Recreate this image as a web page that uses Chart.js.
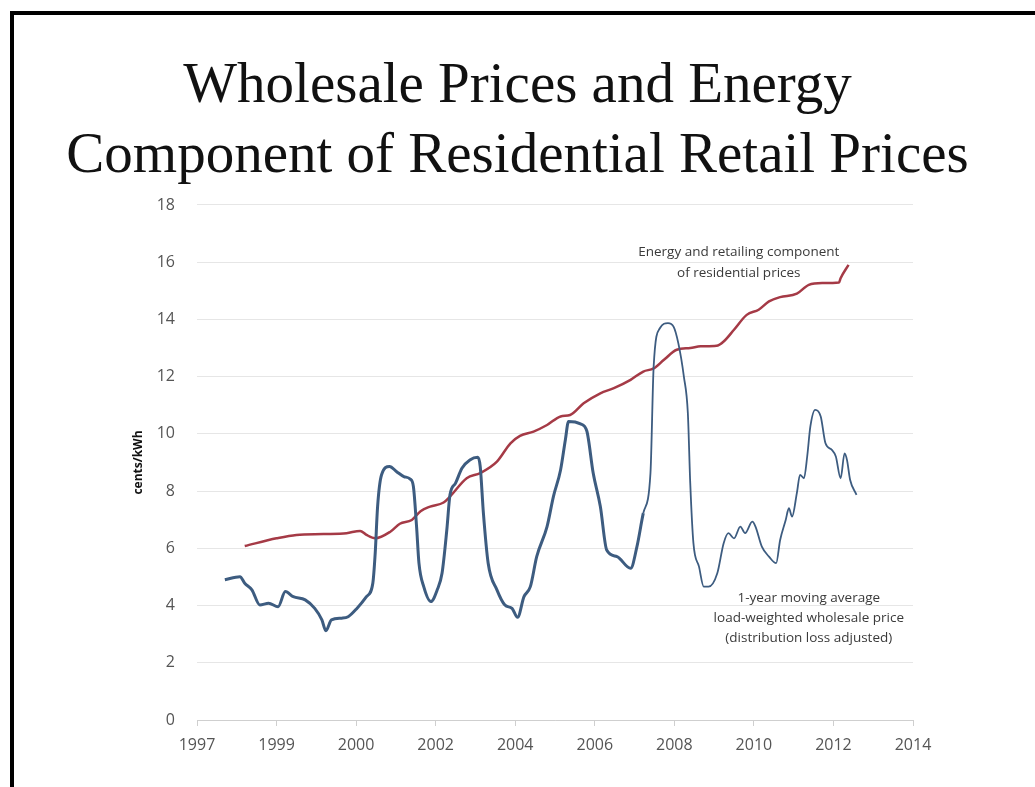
<!DOCTYPE html>
<html>
<head>
<meta charset="utf-8">
<title>Wholesale Prices and Energy Component of Residential Retail Prices</title>
<script src="https://cdn.jsdelivr.net/npm/chart.js@4.4.1/dist/chart.umd.min.js"></script>
<style>
  html, body { margin: 0; padding: 0; background: #fff; }
  #wrap { position: relative; width: 1035px; height: 787px; overflow: hidden; }
  #frame {
    position: absolute; left: 10px; top: 11px; right: -20px; bottom: -20px;
    border-left: 4px solid #000; border-top: 4px solid #000;
  }
  #chart { position: absolute; left: 0; top: 0; }
</style>
</head>
<body>
<div id="wrap">
  <div id="frame"></div>
  <canvas id="chart" width="1035" height="787"></canvas>
</div>
<script>
  "use strict";

  /* ---------------------------------------------------------------
   * Data (x is measured in tick steps along the date axis, 0 = "1997")
   * --------------------------------------------------------------- */
  const X_LABELS = ["1997", "1999", "2000", "2002", "2004", "2006", "2008", "2010", "2012", "2014"];

  // 1-year moving average load-weighted wholesale price
  const WHOLESALE_X = [
    0.35, 0.54, 0.60, 0.69, 0.79, 0.90, 1.02, 1.11, 1.21, 1.36, 1.48, 1.57, 1.62, 1.69, 1.82, 1.90,
    2.01, 2.13, 2.21, 2.24, 2.27, 2.32, 2.42, 2.51, 2.60, 2.68, 2.72, 2.76, 2.79, 2.85, 2.94,
    3.02, 3.08, 3.14, 3.18, 3.25, 3.33, 3.43, 3.53, 3.56, 3.60, 3.66, 3.77, 3.87, 3.96,
    4.03, 4.11, 4.19, 4.27, 4.40, 4.48, 4.57, 4.63, 4.67, 4.82, 4.90, 4.98,
    5.07, 5.15, 5.28, 5.45, 5.53, 5.61, 5.70, 5.74, 5.82, 5.92, 5.99,
    6.05, 6.12, 6.17, 6.20, 6.24, 6.31, 6.37, 6.43, 6.54, 6.62, 6.68, 6.75, 6.83, 6.89, 6.98,
    7.02, 7.10, 7.19, 7.28, 7.33, 7.40, 7.44, 7.48, 7.54, 7.58, 7.63, 7.67, 7.71, 7.77, 7.84, 7.90, 7.98,
    8.03, 8.09, 8.14, 8.17, 8.21, 8.29
  ];
  const WHOLESALE_Y = [
    4.90, 5.01, 4.78, 4.55, 4.02, 4.08, 3.96, 4.49, 4.31, 4.20, 3.90, 3.50, 3.12, 3.50, 3.56, 3.61,
    3.90, 4.31, 4.78, 5.83, 7.46, 8.57, 8.86, 8.68, 8.51, 8.42, 8.16, 6.76, 5.48, 4.66, 4.14,
    4.55, 5.13, 6.64, 7.87, 8.28, 8.80, 9.09, 9.18, 8.86, 7.23, 5.48, 4.55, 4.02, 3.90,
    3.59, 4.31, 4.66, 5.71, 6.76, 7.81, 8.74, 9.79, 10.43, 10.35, 10.10, 8.63,
    7.46, 5.94, 5.71, 5.30, 6.06, 7.23, 8.63, 12.35, 13.70, 13.87, 13.75,
    13.17, 12.00, 10.72, 8.28, 6.18, 5.36, 4.66, 4.66, 5.13, 6.18, 6.53, 6.35, 6.76, 6.53, 6.93,
    6.76, 6.06, 5.71, 5.48, 6.29, 6.99, 7.40, 7.11, 7.93, 8.57, 8.45, 9.21, 10.26, 10.84, 10.61, 9.67, 9.44,
    9.21, 8.45, 9.32, 9.09, 8.39, 7.87
  ];

  // Energy and retailing component of residential prices
  const RETAIL_X = [
    0.60, 1.00, 1.25, 1.59, 1.88, 2.05, 2.13, 2.24, 2.43, 2.55, 2.70, 2.81, 2.93,
    3.10, 3.18, 3.39, 3.56, 3.77, 3.94, 4.06, 4.23, 4.40, 4.57, 4.69, 4.86,
    5.07, 5.24, 5.45, 5.61, 5.74, 5.87, 6.03, 6.20, 6.33, 6.53, 6.62, 6.75, 6.91,
    7.06, 7.19, 7.33, 7.54, 7.69, 7.86, 8.07, 8.09, 8.19
  ];
  const RETAIL_Y = [
    6.08, 6.35, 6.47, 6.50, 6.53, 6.61, 6.47, 6.35, 6.58, 6.86, 6.99, 7.30, 7.46,
    7.60, 7.81, 8.45, 8.63, 9.03, 9.67, 9.93, 10.08, 10.31, 10.61, 10.66, 11.07,
    11.42, 11.60, 11.89, 12.18, 12.29, 12.59, 12.94, 13.00, 13.06, 13.08, 13.23, 13.64, 14.16,
    14.34, 14.63, 14.78, 14.90, 15.21, 15.27, 15.29, 15.44, 15.91
  ];

  const NOTE_RETAIL = ["Energy and retailing component", "of residential prices"];
  const NOTE_WHOLESALE = ["1-year moving average", "load-weighted wholesale price", "(distribution loss adjusted)"];

  /* ---------------------------------------------------------------
   * Annotation plugin (text anchored in data coordinates)
   * --------------------------------------------------------------- */
  const NOTES = [
    { lines: NOTE_RETAIL, x: 6.81, y: 16.36, step: 0.73 },
    { lines: NOTE_WHOLESALE, x: 7.69, y: 4.27, step: 0.70 }
  ];

  const notesPlugin = {
    id: "notes",
    afterDatasetsDraw(chart) {
      const { ctx, scales: { x, y } } = chart;
      ctx.save();
      ctx.font = "13.5px 'Open Sans'";
      ctx.fillStyle = "#3a3a3a";
      ctx.textAlign = "center";
      ctx.textBaseline = "middle";
      NOTES.forEach((n) => {
        n.lines.forEach((t, k) => {
          ctx.fillText(t, x.getPixelForValue(n.x), y.getPixelForValue(n.y - k * n.step));
        });
      });
      ctx.restore();
    }
  };

  const toPoints = (xs, ys) => xs.map((x, i) => ({ x, y: ys[i] }));

  /* ---------------------------------------------------------------
   * Chart
   * --------------------------------------------------------------- */
  new Chart(document.getElementById("chart"), {
    type: "line",
    data: {
      datasets: [
        {
          label: "Wholesale price",
          data: toPoints(WHOLESALE_X, WHOLESALE_Y),
          borderColor: "#3d5c80",
          borderWidth: 3,
          pointRadius: 0,
          cubicInterpolationMode: "monotone",
          segment: {
            borderWidth: (c) => (c.p0.parsed.x >= 5.6 ? 1.8 : 3)
          }
        },
        {
          label: "Residential energy component",
          data: toPoints(RETAIL_X, RETAIL_Y),
          borderColor: "#a53a46",
          borderWidth: 2.5,
          pointRadius: 0,
          cubicInterpolationMode: "monotone"
        }
      ]
    },
    options: {
      responsive: false,
      animation: false,
      layout: { padding: 0 },
      plugins: {
        legend: { display: false },
        tooltip: { enabled: false },
        title: {
          display: true,
          text: ["Wholesale Prices and Energy", "Component of Residential Retail Prices"],
          color: "#111",
          font: { family: "'Liberation Serif', serif", size: 57, weight: "normal", lineHeight: 1.228 },
          padding: { top: 52, bottom: 13 }
        }
      },
      scales: {
        x: {
          type: "linear",
          min: 0,
          max: 9,
          afterFit: (s) => { s.height = 67; },
          ticks: {
            stepSize: 1,
            autoSkip: false,
            maxRotation: 0,
            padding: 10,
            color: "#555",
            font: { family: "'Open Sans'", size: 16 },
            callback: (v) => X_LABELS[v]
          },
          grid: { drawOnChartArea: false, drawTicks: true, tickLength: 6, color: "#cfcfcf" },
          border: { color: "#cfcfcf" }
        },
        y: {
          min: 0,
          max: 18,
          afterFit: (s) => { s.width = 197; },
          ticks: {
            stepSize: 2,
            padding: 22,
            color: "#555",
            font: { family: "'Open Sans'", size: 16 }
          },
          grid: { color: "#e6e6e6", drawTicks: false },
          border: { display: false },
          title: {
            display: true,
            text: "cents/kWh",
            color: "#111",
            font: { family: "'Open Sans'", size: 12, weight: "bold" },
            padding: { top: 131, bottom: 0 }
          }
        },
        // empty right-hand axis that only reserves the margin right of the plot
        yRight: {
          position: "right",
          display: true,
          afterFit: (s) => { s.width = 122; },
          ticks: { display: false },
          grid: { display: false },
          border: { display: false }
        }
      }
    },
    plugins: [notesPlugin]
  });
</script>
</body>
</html>
